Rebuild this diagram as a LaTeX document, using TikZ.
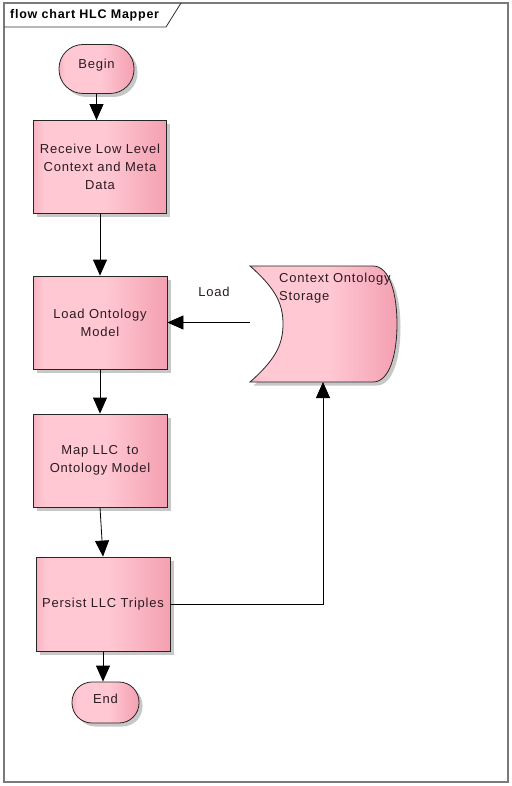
\documentclass[tikz,border=0pt]{standalone}
\usepackage{fontspec}
\setmainfont{Liberation Sans}[LetterSpace=6]
\usetikzlibrary{arrows.meta,shadows}
\definecolor{pkA}{HTML}{F6B3C1}
\definecolor{pkB}{HTML}{FFC8D3}
\definecolor{pkC}{HTML}{F4A0B1}
\definecolor{txt}{HTML}{2B1B22}
\definecolor{framecol}{HTML}{7A7A7A}
\pgfdeclarehorizontalshading{pinkgrad}{100bp}{color(0bp)=(pkA); color(25bp)=(pkA); color(29bp)=(pkB); color(52bp)=(pkB); color(75bp)=(pkC); color(100bp)=(pkC)}
\tikzset{
  boxfont/.style={font=\fontsize{13}{18}\selectfont, text=txt},
  shad/.style={drop shadow={shadow xshift=3.5pt, shadow yshift=-3.5pt, fill=black!40, opacity=0.55}},
  proc/.style={draw=black!85, line width=0.8pt, shading=pinkgrad, shad, boxfont,
    minimum width=133pt, minimum height=93pt, align=center, inner sep=2pt},
  term/.style={proc, rounded corners=20pt},
  flow/.style={-{Triangle[length=16pt,width=14pt]}, line width=0.8pt, black},
}
\begin{document}
\begin{tikzpicture}[x=1pt,y=-1pt]
\useasboundingbox (0,0) rectangle (511,786);
% frame
\draw[framecol, line width=1.3pt] (4,3) rectangle (508,782);
\draw[black!80, line width=0.8pt] (4,27) -- (166,27) -- (181,3);
\node[anchor=west, font=\bfseries\fontsize{12.5}{15}\selectfont, inner sep=0pt] (title) at (10,15) {flow chart HLC Mapper};

% nodes
\node[term, minimum width=75pt, minimum height=49pt, rounded corners=24pt] (begin) at (96.5,69) {\raisebox{4pt}[\height][\depth]{Begin}};
\node[proc] (receive) at (100,167) {Receive Low Level\\Context and Meta\\Data};
\node[proc, minimum width=134pt] (load) at (100,322.5) {Load Ontology\\Model};
\node[proc, minimum width=134pt] (map) at (100,460.5) {Map LLC\ \ to\\Ontology Model};
\node[proc, minimum width=134pt, minimum height=94pt] (persist) at (103,604) {Persist LLC Triples};
\node[term, minimum width=67pt, minimum height=41pt] (end) at (105.5,702.5) {\raisebox{4pt}[\height][\depth]{End}};

% storage
\path[draw=black!85, line width=0.8pt, shading=pinkgrad, shad]
  (250,266) -- (373,266) .. controls (390,266) and (397,295) .. (397,324)
  .. controls (397,353) and (390,382) .. (373,382) -- (250,382)
  .. controls (275,360) and (283,345) .. (283,324)
  .. controls (283,303) and (275,288) .. (250,266) -- cycle;
\node[anchor=north west, align=left, boxfont, inner sep=0pt] (stortext) at (279,273) {Context Ontology\\Storage};
\coordinate (stL) at (250,322.5);
\coordinate (stB) at (323,382);

\node[boxfont] (loadlbl) at (214,292) {Load};

% connectors
\draw[flow] (begin.south) -- (begin.south |- receive.north);
\draw[flow] (receive.south) -- (load.north);
\draw[flow] (load.south) -- (map.north);
\draw[flow] (map.south) -- (persist.north);
\draw[flow] (persist.south) -- (persist.south |- end.north);
\draw[flow] (stL) -- (load.east);
\draw[flow] (persist.east) -| (stB);
\end{tikzpicture}
\end{document}
